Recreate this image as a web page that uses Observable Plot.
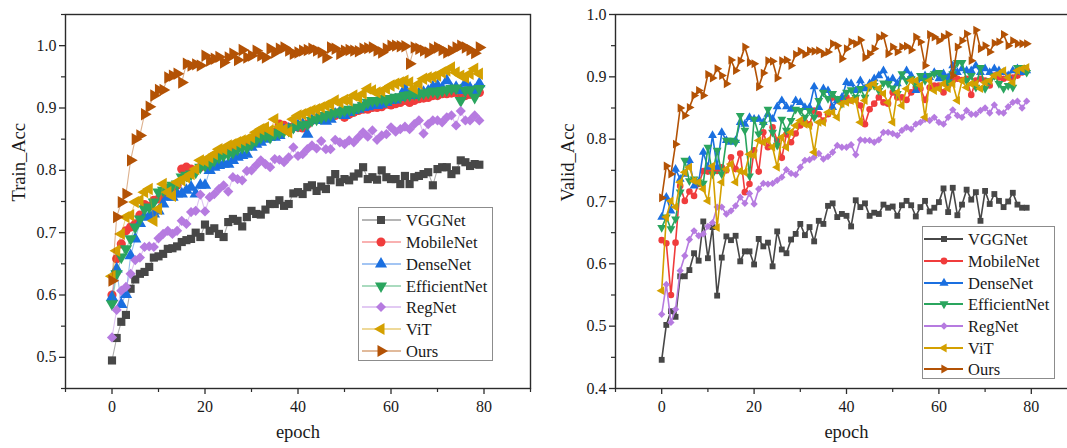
<!DOCTYPE html>
<html><head><meta charset="utf-8">
<script src="https://cdn.jsdelivr.net/npm/d3@7"></script>
<script src="https://cdn.jsdelivr.net/npm/@observablehq/plot@0.6"></script>
<style>
html,body{margin:0;padding:0;overflow:hidden;background:#fff;width:1067px;height:448px}
#wrap{position:relative;width:1067px;height:448px;overflow:hidden}
.panel{position:absolute;top:0}
.legend{position:absolute;border:1px solid #8c8c8c;background:#fff;box-sizing:border-box}
</style></head><body><div id="wrap"></div>
<script>
const epochs = d3.range(80);
const models = ["VGGNet","MobileNet","DenseNet","EfficientNet","RegNet","ViT","Ours"];
const colors = ["#474747","#f03c3c","#1a6fe0","#2aa55e","#b67be0","#d4a000","#b35205"];
const symbols = ["square","circle","triangle","triangle","diamond2","triangle","triangle"];
const rotations = [0,0,0,180,0,-90,90];
const xMajor = [0,20,40,60,80];
const xMinor = [-10,10,30,50,70,90];
const trainMajor = [0.5,0.6,0.7,0.8,0.9,1.0];
const trainMinor = [0.45,0.55,0.65,0.75,0.85,0.95,1.05];
const validMajor = [0.4,0.5,0.6,0.7,0.8,0.9,1.0];
const validMinor = [0.45,0.55,0.65,0.75,0.85,0.95];

const trainVGGNet = [
0.495,0.531,0.557,0.568,0.610,0.625,0.634,0.637,0.645,0.660,
0.662,0.666,0.674,0.675,0.678,0.685,0.688,0.690,0.700,0.693,
0.713,0.703,0.707,0.698,0.693,0.717,0.722,0.719,0.710,0.725,
0.735,0.730,0.729,0.737,0.746,0.746,0.752,0.743,0.746,0.763,
0.765,0.762,0.773,0.776,0.767,0.774,0.770,0.784,0.794,0.781,
0.786,0.784,0.790,0.795,0.805,0.786,0.789,0.785,0.800,0.789,
0.786,0.786,0.778,0.791,0.778,0.789,0.791,0.794,0.797,0.776,
0.802,0.805,0.805,0.794,0.800,0.816,0.813,0.807,0.810,0.809];
const trainMobileNet = [
0.600,0.658,0.682,0.703,0.709,0.714,0.728,0.745,0.742,0.752,
0.754,0.762,0.768,0.773,0.776,0.802,0.805,0.802,0.800,0.805,
0.810,0.816,0.821,0.826,0.829,0.832,0.837,0.837,0.840,0.842,
0.848,0.853,0.856,0.856,0.858,0.861,0.874,0.872,0.869,0.870,
0.869,0.868,0.874,0.880,0.882,0.885,0.888,0.890,0.888,0.893,
0.885,0.890,0.893,0.896,0.898,0.898,0.901,0.901,0.902,0.906,
0.905,0.907,0.909,0.912,0.909,0.912,0.915,0.916,0.917,0.920,
0.920,0.923,0.923,0.924,0.925,0.917,0.920,0.922,0.923,0.925];
const trainDenseNet = [
0.596,0.642,0.585,0.601,0.663,0.690,0.715,0.725,0.726,0.730,
0.735,0.746,0.757,0.757,0.762,0.762,0.768,0.773,0.762,0.776,
0.776,0.800,0.805,0.808,0.810,0.810,0.816,0.821,0.824,0.826,
0.837,0.842,0.845,0.850,0.853,0.853,0.856,0.864,0.866,0.869,
0.872,0.874,0.858,0.880,0.882,0.880,0.879,0.882,0.890,0.893,
0.888,0.893,0.896,0.898,0.901,0.902,0.904,0.904,0.906,0.909,
0.912,0.913,0.917,0.931,0.920,0.920,0.923,0.925,0.927,0.934,
0.936,0.932,0.944,0.931,0.933,0.928,0.940,0.932,0.928,0.939];
const trainEfficientNet = [
0.586,0.634,0.661,0.674,0.690,0.709,0.722,0.738,0.741,0.749,
0.765,0.768,0.773,0.776,0.778,0.789,0.792,0.794,0.797,0.805,
0.808,0.810,0.816,0.821,0.824,0.826,0.829,0.834,0.837,0.837,
0.842,0.848,0.853,0.856,0.853,0.858,0.861,0.863,0.864,0.869,
0.872,0.873,0.874,0.880,0.882,0.885,0.888,0.890,0.893,0.893,
0.896,0.898,0.898,0.901,0.904,0.909,0.912,0.912,0.915,0.912,
0.915,0.917,0.918,0.920,0.921,0.923,0.922,0.924,0.925,0.927,
0.925,0.928,0.929,0.931,0.932,0.912,0.928,0.929,0.917,0.931];
const trainRegNet = [
0.532,0.576,0.607,0.613,0.634,0.656,0.660,0.677,0.678,0.677,
0.691,0.698,0.703,0.698,0.703,0.719,0.714,0.733,0.735,0.761,
0.734,0.757,0.762,0.770,0.776,0.766,0.789,0.786,0.784,0.799,
0.800,0.808,0.816,0.810,0.805,0.818,0.817,0.813,0.821,0.837,
0.823,0.826,0.834,0.840,0.835,0.847,0.834,0.834,0.849,0.845,
0.842,0.848,0.845,0.853,0.861,0.854,0.864,0.849,0.856,0.858,
0.869,0.862,0.866,0.870,0.866,0.874,0.880,0.859,0.874,0.880,
0.880,0.877,0.885,0.888,0.872,0.895,0.880,0.880,0.888,0.880];
const trainViT = [
0.630,0.671,0.698,0.725,0.728,0.749,0.752,0.765,0.770,0.719,
0.738,0.778,0.765,0.759,0.781,0.784,0.789,0.794,0.802,0.816,
0.815,0.821,0.826,0.834,0.834,0.840,0.842,0.845,0.848,0.850,
0.853,0.861,0.866,0.869,0.864,0.882,0.870,0.866,0.861,0.882,
0.888,0.890,0.893,0.896,0.898,0.901,0.904,0.906,0.912,0.909,
0.913,0.912,0.920,0.917,0.923,0.931,0.928,0.925,0.927,0.931,
0.936,0.939,0.941,0.944,0.941,0.931,0.939,0.947,0.949,0.950,
0.952,0.957,0.960,0.965,0.957,0.952,0.949,0.955,0.963,0.955];
const trainOurs = [
0.623,0.725,0.749,0.762,0.816,0.850,0.856,0.890,0.902,0.920,
0.929,0.929,0.949,0.952,0.955,0.941,0.971,0.968,0.970,0.968,
0.984,0.976,0.979,0.982,0.973,0.981,0.987,0.977,0.993,0.981,
0.984,0.992,0.984,0.981,0.995,0.989,0.995,0.997,0.992,0.987,
0.989,0.992,0.993,0.995,0.992,0.989,0.981,0.997,0.995,0.987,
0.992,0.993,0.992,0.991,0.995,0.996,0.997,0.992,0.989,0.995,
1.000,1.000,0.999,0.999,0.971,0.997,0.995,0.992,0.989,0.995,
0.997,0.993,0.989,0.992,0.997,1.000,0.997,0.993,0.988,0.997];

const validVGGNet = [
0.446,0.502,0.524,0.515,0.580,0.580,0.590,0.617,0.605,0.668,
0.609,0.659,0.549,0.610,0.644,0.638,0.645,0.604,0.620,0.620,
0.599,0.640,0.628,0.634,0.596,0.652,0.623,0.617,0.639,0.648,
0.664,0.646,0.659,0.636,0.669,0.664,0.693,0.697,0.675,0.680,
0.677,0.660,0.702,0.691,0.697,0.677,0.682,0.680,0.695,0.690,
0.692,0.677,0.694,0.701,0.694,0.676,0.691,0.701,0.684,0.690,
0.699,0.721,0.683,0.722,0.678,0.695,0.719,0.703,0.715,0.669,
0.717,0.696,0.712,0.701,0.691,0.700,0.714,0.695,0.690,0.690];
const validMobileNet = [
0.638,0.633,0.550,0.634,0.725,0.701,0.716,0.709,0.728,0.749,
0.748,0.752,0.749,0.755,0.750,0.771,0.752,0.777,0.715,0.728,
0.782,0.748,0.811,0.787,0.819,0.798,0.770,0.808,0.795,0.809,
0.822,0.827,0.824,0.846,0.840,0.830,0.840,0.867,0.862,0.865,
0.867,0.862,0.865,0.854,0.824,0.848,0.857,0.867,0.859,0.857,
0.875,0.867,0.867,0.863,0.875,0.883,0.881,0.863,0.883,0.886,
0.886,0.875,0.886,0.894,0.897,0.895,0.897,0.871,0.894,0.897,
0.894,0.886,0.902,0.899,0.897,0.899,0.899,0.902,0.907,0.910];
const validDenseNet = [
0.675,0.707,0.685,0.752,0.736,0.744,0.766,0.725,0.731,0.779,
0.755,0.806,0.755,0.811,0.798,0.795,0.798,0.827,0.824,0.835,
0.832,0.832,0.827,0.840,0.832,0.852,0.862,0.852,0.848,0.862,
0.859,0.851,0.851,0.884,0.851,0.881,0.878,0.851,0.862,0.867,
0.891,0.889,0.878,0.894,0.881,0.889,0.897,0.902,0.910,0.894,
0.897,0.889,0.900,0.910,0.902,0.878,0.897,0.902,0.899,0.907,
0.897,0.905,0.899,0.918,0.907,0.913,0.910,0.910,0.918,0.907,
0.913,0.907,0.913,0.910,0.907,0.902,0.910,0.913,0.907,0.910];
const validEfficientNet = [
0.658,0.675,0.656,0.672,0.715,0.766,0.733,0.736,0.731,0.729,
0.787,0.744,0.782,0.744,0.798,0.798,0.795,0.838,0.814,0.741,
0.832,0.808,0.824,0.848,0.811,0.790,0.832,0.814,0.830,0.848,
0.846,0.835,0.846,0.835,0.862,0.875,0.865,0.873,0.865,0.857,
0.875,0.879,0.867,0.881,0.867,0.884,0.886,0.878,0.890,0.889,
0.882,0.873,0.905,0.894,0.897,0.886,0.902,0.894,0.902,0.905,
0.907,0.899,0.891,0.905,0.923,0.923,0.894,0.902,0.883,0.915,
0.881,0.894,0.902,0.889,0.881,0.886,0.883,0.915,0.915,0.907];
const validRegNet = [
0.519,0.567,0.506,0.527,0.589,0.613,0.639,0.653,0.645,0.648,
0.660,0.666,0.691,0.691,0.680,0.685,0.693,0.707,0.697,0.713,
0.696,0.720,0.729,0.728,0.729,0.734,0.739,0.751,0.745,0.743,
0.755,0.766,0.767,0.771,0.777,0.768,0.772,0.779,0.790,0.787,
0.787,0.791,0.775,0.799,0.798,0.798,0.795,0.799,0.811,0.811,
0.809,0.806,0.814,0.819,0.816,0.824,0.827,0.832,0.830,0.835,
0.827,0.824,0.835,0.847,0.838,0.835,0.846,0.840,0.840,0.846,
0.850,0.842,0.855,0.843,0.842,0.852,0.859,0.861,0.850,0.861];
const validViT = [
0.557,0.675,0.701,0.691,0.731,0.747,0.755,0.733,0.731,0.720,
0.701,0.757,0.658,0.731,0.752,0.760,0.731,0.749,0.747,0.776,
0.774,0.798,0.795,0.798,0.787,0.755,0.803,0.787,0.811,0.822,
0.830,0.824,0.822,0.779,0.827,0.827,0.843,0.843,0.835,0.857,
0.859,0.862,0.862,0.827,0.862,0.886,0.889,0.881,0.873,0.859,
0.827,0.875,0.854,0.881,0.894,0.894,0.886,0.835,0.894,0.878,
0.881,0.889,0.881,0.889,0.862,0.894,0.883,0.889,0.889,0.881,
0.891,0.894,0.902,0.905,0.910,0.899,0.891,0.910,0.913,0.915];
const validOurs = [
0.706,0.757,0.744,0.792,0.850,0.838,0.851,0.870,0.878,0.870,
0.904,0.898,0.913,0.902,0.889,0.927,0.910,0.926,0.948,0.923,
0.921,0.884,0.906,0.926,0.925,0.898,0.926,0.927,0.918,0.936,
0.941,0.936,0.942,0.941,0.942,0.937,0.940,0.953,0.950,0.929,
0.945,0.956,0.953,0.959,0.931,0.937,0.945,0.963,0.966,0.937,
0.948,0.940,0.948,0.949,0.943,0.964,0.956,0.918,0.968,0.964,
0.958,0.964,0.968,0.902,0.948,0.958,0.969,0.926,0.975,0.945,
0.950,0.940,0.954,0.956,0.968,0.950,0.958,0.953,0.953,0.953];

const trainSeries = [trainVGGNet,trainMobileNet,trainDenseNet,trainEfficientNet,trainRegNet,trainViT,trainOurs];
const validSeries = [validVGGNet,validMobileNet,validDenseNet,validEfficientNet,validRegNet,validViT,validOurs];

const FONT = '"Liberation Serif","Times New Roman",serif';
const wrap = document.getElementById("wrap");

function panel(series, o) {
  const marks = [];
  series.forEach((vals, i) => {
    const data = epochs.map((e, j) => ({epoch: e, acc: vals[j]}));
    marks.push(Plot.line(data, {x: "epoch", y: "acc", stroke: colors[i], strokeWidth: o.lineWidth, strokeOpacity: o.lineOpacity}));
    marks.push(Plot.dot(data, {x: "epoch", y: "acc", symbol: symbols[i], rotate: rotations[i], r: o.r, fill: colors[i], stroke: "none"}));
  });
  marks.push(Plot.frame({stroke: "#2b2b2b", strokeWidth: 1.4}));
  marks.push(Plot.axisY(o.yMajor, {label: null, tickSize: 6, tickPadding: 3, tickFormat: d3.format(".1f"), stroke: "#2b2b2b", strokeWidth: 1.3}));
  marks.push(Plot.axisY(o.yMinor, {label: null, tickSize: 4, tickFormat: () => "", stroke: "#2b2b2b", strokeWidth: 1.2}));
  marks.push(Plot.axisX(xMajor, {label: null, tickSize: 6, tickPadding: 6, tickFormat: d3.format("d"), stroke: "#2b2b2b", strokeWidth: 1.3}));
  marks.push(Plot.axisX(xMinor, {label: null, tickSize: 4, tickFormat: () => "", stroke: "#2b2b2b", strokeWidth: 1.2}));
  marks.push(Plot.text(["epoch"], {frameAnchor: "bottom", dy: 49, fontSize: 18.5, fill: "#1a1a1a"}));
  marks.push(Plot.text([o.label], {frameAnchor: "left", dx: o.labelDx, rotate: -90, fontSize: 18.5, fill: "#1a1a1a"}));
  const chart = Plot.plot({
    width: o.width, height: 448,
    marginLeft: o.marginLeft, marginRight: o.marginRight, marginTop: 14, marginBottom: 60,
    x: {domain: [-10, 90], label: null},
    y: {domain: o.yDomain, label: null},
    style: {fontFamily: FONT, fontSize: "16px", color: "#1a1a1a", background: "transparent", overflow: "visible"},
    marks
  });
  chart.classList.add("panel");
  chart.style.left = o.left + "px";
  wrap.appendChild(chart);
}

function legend(o) {
  const div = document.createElement("div");
  div.className = "legend";
  Object.assign(div.style, {left: o.left + "px", top: o.top + "px", width: o.w + "px", height: o.h + "px"});
  wrap.appendChild(div);
  const svg = d3.select(div).append("svg").attr("width", o.w - 2).attr("height", o.h - 2).style("display", "block");
  const symMap = {square: d3.symbolSquare, circle: d3.symbolCircle, triangle: d3.symbolTriangle, diamond2: d3.symbolDiamond2};
  models.forEach((m, i) => {
    const y = o.rows[i];
    svg.append("line").attr("x1", o.lx1).attr("x2", o.lx2).attr("y1", y).attr("y2", y)
      .attr("stroke", colors[i]).attr("stroke-width", o.lw).attr("stroke-opacity", o.lo);
    svg.append("path").attr("d", d3.symbol(symMap[symbols[i]], Math.PI * o.r * o.r)())
      .attr("transform", `translate(${o.mx},${y}) rotate(${rotations[i]})`).attr("fill", colors[i]);
    svg.append("text").attr("x", o.tx).attr("y", y).attr("dy", "0.34em")
      .attr("font-family", FONT).attr("font-size", 16.5).attr("fill", "#1a1a1a").text(m);
  });
}

panel(trainSeries, {left: 0, width: 540, marginLeft: 65, marginRight: 10, yDomain: [0.45, 1.05],
  yMajor: trainMajor, yMinor: trainMinor, label: "Train_Acc", labelDx: -46, r: 4.6, lineWidth: 1.1, lineOpacity: 0.45});
panel(validSeries, {left: 540, width: 540, marginLeft: 75, marginRight: 3, yDomain: [0.4, 1.0],
  yMajor: validMajor, yMinor: validMinor, label: "Valid_Acc", labelDx: -47, r: 3.3, lineWidth: 1.6, lineOpacity: 1});

legend({left: 358, top: 207, w: 135, h: 154, rows: [12, 34, 56, 78, 99, 121, 143],
  lx1: 3, lx2: 42, mx: 22, tx: 47, lw: 2, lo: 0.4, r: 4.5});
legend({left: 922, top: 226, w: 133, h: 153, rows: [12, 34, 56, 77, 99, 121, 142],
  lx1: 1, lx2: 40, mx: 21, tx: 45, lw: 1.8, lo: 1, r: 3.4});
</script></body></html>
